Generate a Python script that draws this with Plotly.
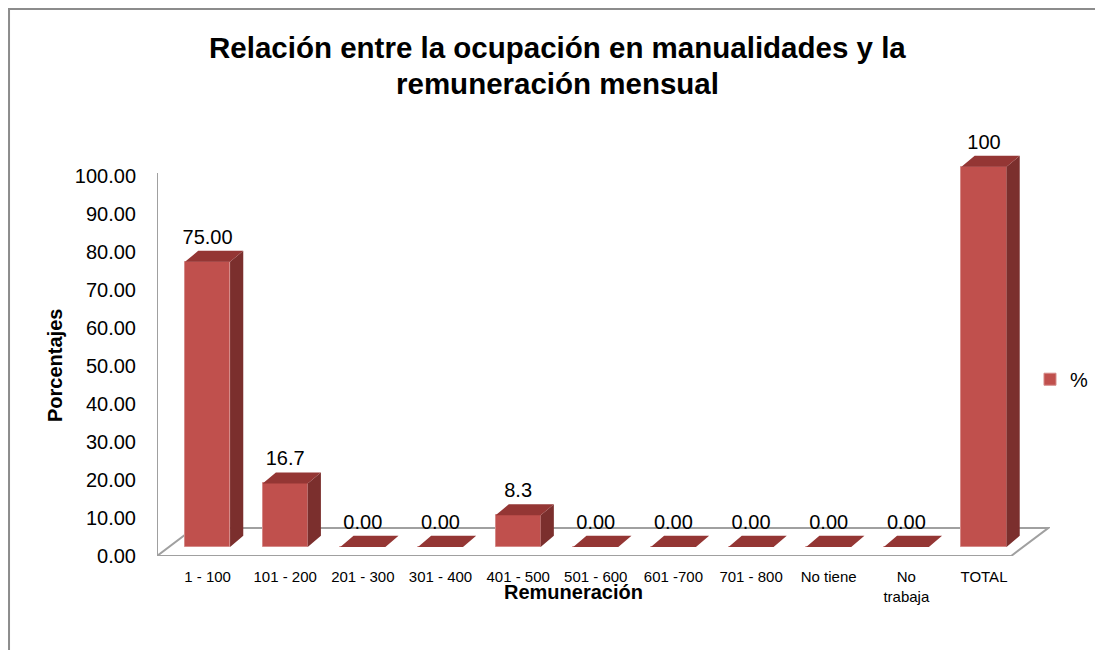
import plotly.graph_objects as go

# ---- data ----
categories = ["1 - 100", "101 - 200", "201 - 300", "301 - 400", "401 - 500",
              "501 - 600", "601 -700", "701 - 800", "No tiene", "No<br>trabaja", "TOTAL"]
values = [75.00, 16.7, 0.00, 0.00, 8.3, 0.00, 0.00, 0.00, 0.00, 0.00, 100]
labels = ["75.00", "16.7", "0.00", "0.00", "8.3", "0.00", "0.00", "0.00", "0.00", "0.00", "100"]
y_ticks = [0, 10, 20, 30, 40, 50, 60, 70, 80, 90, 100]
title_lines = ["Relación entre la ocupación en manualidades y la", "remuneración mensual"]

# ---- style / geometry (pseudo-3D) ----
FRONT = "#C0504D"
SIDE = "#7B2F2D"
TOP = "#943634"
FONT = "Liberation Sans, Arial, sans-serif"
W = 0.58          # bar width (category units)
DX, DY = 0.17, 2.9  # depth offset of bars
B0 = 2.4          # bars sit inside the floor
FX0, FX1 = -0.651, 10.35   # floor front edge
FDX, FDY = 0.477, 7.37     # floor depth
XR = [-0.651, 10.85]
YR = [0, 112.1]

idx = list(range(len(categories)))

fig = go.Figure()

# front faces
fig.add_trace(go.Bar(
    x=idx, y=values, base=B0, width=W, name="%",
    marker=dict(color=FRONT, line=dict(color="#D58A88", width=1)),
    showlegend=True, hoverinfo="skip"))

# side faces and top faces
sx, sy, tx, ty = [], [], [], []
for i, v in zip(idx, values):
    xr = i + W / 2
    xl = i - W / 2
    if v > 0:
        sx += [xr, xr + DX, xr + DX, xr, xr, None]
        sy += [B0, B0 + DY, B0 + v + DY, B0 + v, B0, None]
    tx += [xl, xl + DX, xr + DX, xr, xl, None]
    ty += [B0 + v, B0 + v + DY, B0 + v + DY, B0 + v, B0 + v, None]

fig.add_trace(go.Scatter(x=sx, y=sy, mode="lines", fill="toself", fillcolor=SIDE,
                         line=dict(width=0, color=SIDE), showlegend=False, hoverinfo="skip"))
fig.add_trace(go.Scatter(x=tx, y=ty, mode="lines", fill="toself", fillcolor=TOP,
                         line=dict(width=0, color=TOP), showlegend=False, hoverinfo="skip"))

# value labels
fig.add_trace(go.Scatter(
    x=idx, y=[B0 + v + DY + 3.2 for v in values], mode="text", text=labels,
    textposition="middle center", textfont=dict(family=FONT, size=20, color="#000000"),
    showlegend=False, hoverinfo="skip", cliponaxis=False))

# floor outline
floor_path = (f"M {FX0},0 L {FX1},0 L {FX1 + FDX},{FDY} "
              f"L {FX0 + FDX},{FDY} Z")
fig.add_shape(type="path", path=floor_path, xref="x", yref="y",
              line=dict(color="#A0A0A0", width=2), layer="below")
# y axis line
fig.add_shape(type="line", xref="x", yref="y", x0=FX0, x1=FX0, y0=0, y1=100.8,
              line=dict(color="#A0A0A0", width=2), layer="below")

# chart frame
fig.add_shape(type="rect", xref="paper", yref="paper",
              x0=-0.1657, x1=1.07, y0=-0.25, y1=1.284,
              line=dict(color="#8C8C8C", width=2), fillcolor="rgba(0,0,0,0)")

# title (two lines)
for txt, yy in zip(title_lines, [1.1925, 1.1103]):
    fig.add_annotation(text=f"<b>{txt}</b>", xref="paper", yref="paper",
                       x=0.4482, y=yy, xanchor="center", yanchor="middle", showarrow=False,
                       font=dict(family=FONT, size=29.5, color="#000000"))

# axis titles
fig.add_annotation(text="<b>Porcentajes</b>", xref="paper", yref="y",
                   x=-0.1142, y=50, xanchor="center", yanchor="middle",
                   textangle=-90, showarrow=False,
                   font=dict(family=FONT, size=20, color="#000000"))
fig.add_annotation(text="<b>Remuneración</b>", xref="x", yref="paper",
                   x=4.71, y=0, yshift=-36, xanchor="center", yanchor="middle",
                   showarrow=False,
                   font=dict(family=FONT, size=20, color="#000000"))

fig.update_layout(
    width=1103, height=650,
    margin=dict(l=149, r=61, t=122, b=102, autoexpand=False),
    paper_bgcolor="white", plot_bgcolor="white",
    xaxis=dict(range=XR, tickvals=idx, ticktext=categories, showgrid=False,
               zeroline=False, showline=False, ticks="",
               tickfont=dict(family=FONT, size=15, color="#000000"),
               ticklabelstandoff=10),
    yaxis=dict(range=YR, tickvals=y_ticks, tickformat=".2f", showgrid=False,
               zeroline=False, showline=False, ticks="",
               tickfont=dict(family=FONT, size=20, color="#000000"),
               ticklabelstandoff=20),
    legend=dict(x=0.9776, y=0.415, xanchor="left", yanchor="middle",
                font=dict(family=FONT, size=20, color="#000000"),
                itemwidth=30, bgcolor="rgba(0,0,0,0)"),
    bargap=0,
)

fig.write_html("out.html")
